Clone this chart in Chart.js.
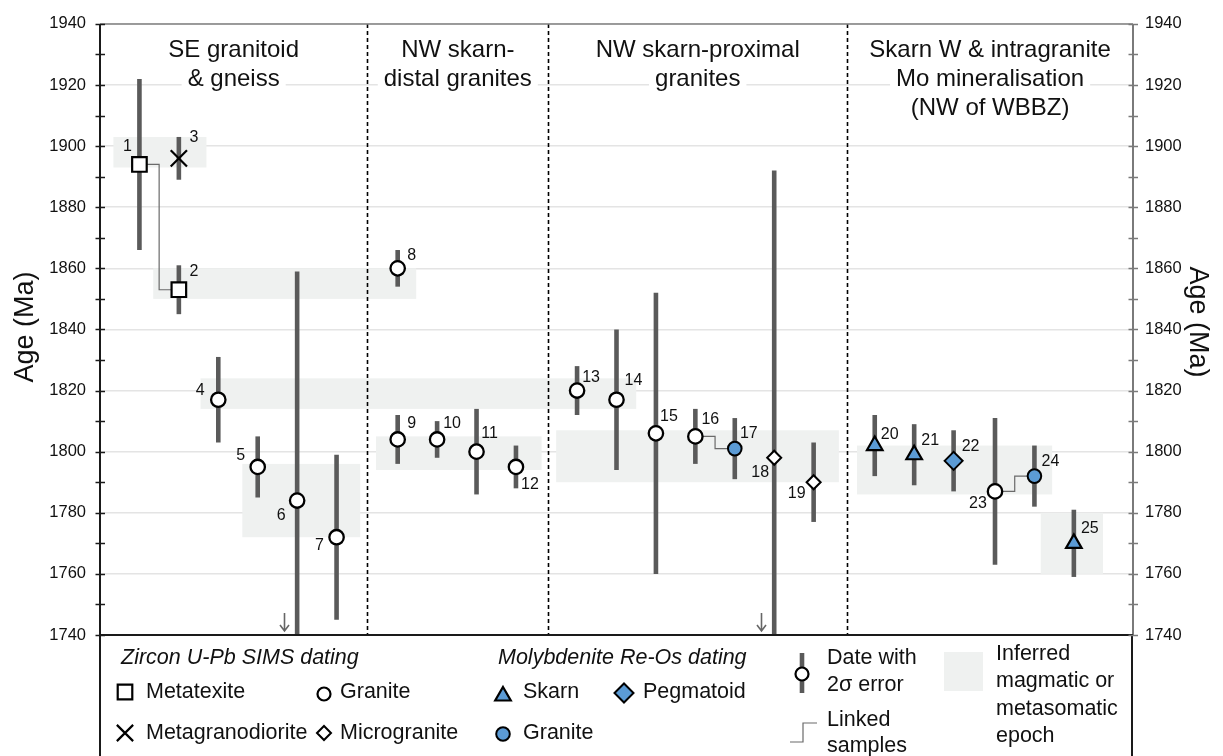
<!DOCTYPE html>
<html>
<head>
<meta charset="utf-8">
<title>Age (Ma)</title>
<script src="https://cdn.jsdelivr.net/npm/chart.js@4.4.1/dist/chart.umd.min.js"></script>
<style>
  html, body { margin: 0; padding: 0; background: #fff; }
  canvas { display: block; }
</style>
</head>
<body>
<canvas id="ageChart" width="1223" height="756"></canvas>
<script>
// ==========================
// DATA
// ==========================
const sampleIds  = [1, 2, 3, 4, 5, 6, 7, 8, 9, 10, 11, 12, 13, 14, 15, 16, 17, 18, 19, 20, 21, 22, 23, 24, 25];
// slot along the horizontal axis (groups separated by gaps)
const samplePos  = [1, 2, 2, 3, 4, 5, 6, 7.55, 7.55, 8.55, 9.55, 10.55, 12.1, 13.1, 14.1, 15.1, 16.1, 17.1, 18.1, 19.65, 20.65, 21.65, 22.7, 23.7, 24.7];
const ages       = [1894, 1853, 1896, 1817, 1795, 1784, 1772, 1860, 1804, 1804, 1800, 1795, 1820, 1817, 1806, 1805, 1801, 1798, 1790, 1802, 1799, 1797, 1787, 1792, 1770];
const errors2s   = [28, 8, 7, 14, 10, 75, 27, 6, 8, 6, 14, 7, 8, 23, 46, 9, 10, 94, 13, 10, 10, 10, 24, 10, 11];
const sampleType = ['metatexite', 'metatexite', 'metagranodiorite', 'granite', 'granite', 'granite', 'granite',
                    'granite', 'granite', 'granite', 'granite', 'granite', 'granite', 'granite', 'granite', 'granite',
                    'moGranite', 'microgranite', 'microgranite', 'skarn', 'skarn', 'pegmatoid', 'granite', 'moGranite', 'skarn'];

// samples joined by a stepped line
const linkedPairs = [[1, 2], [16, 17], [23, 24]];

// inferred magmatic / metasomatic epochs (slot range, age range)
const bandStart = [0.34, 1.35, 2.55, 3.61, 7.0, 11.57, 19.2, 23.86];
const bandEnd   = [2.70, 8.02, 13.6, 6.6, 11.2, 18.74, 24.15, 25.44];
const bandOld   = [1903, 1860, 1824, 1796, 1805, 1807, 1802, 1780];
const bandYoung = [1893, 1850, 1814, 1772, 1794, 1790, 1786, 1760];

// sample groups
const groupBounds = [6.78, 11.37, 18.95];
const groupTitles = [
    ['SE granitoid', '& gneiss'],
    ['NW skarn-', 'distal granites'],
    ['NW skarn-proximal', 'granites'],
    ['Skarn W & intragranite', 'Mo mineralisation', '(NW of WBBZ)']
];

const ageMin = 1740, ageMax = 1940, ageStep = 10;

// ==========================
// STYLE
// ==========================
const FONT = "'Liberation Sans', Arial, sans-serif";
const BLUE = '#5b9bd5';
const BAR  = '#5a5a5a';

// sample number placement around each marker [dx, dy]
const labelOffset = [
    [-12, -18], [15, -18], [15, -21], [-18, -9], [-17, -11], [-16, 15], [-17, 8],
    [14, -13], [14, -16], [15, -16], [13, -18], [14, 18],
    [14, -13], [17, -19], [13, -17], [15, -17], [14, -15], [-14, 15], [-17, 11],
    [15, -11], [16, -14], [17, -14], [-17, 12], [16, -15], [16, -15]
];

const markers = {
    metatexite:       { pointStyle: 'rect',     radius: 10.3, fill: '#fff', border: 2.2 },
    metagranodiorite: { pointStyle: 'crossRot', radius: 11.5, fill: '#fff', border: 2.2 },
    granite:          { pointStyle: 'circle',   radius: 7.2,  fill: '#fff', border: 2.3 },
    microgranite:     { pointStyle: 'rectRot',  radius: 7,    fill: '#fff', border: 2 },
    skarn:            { pointStyle: 'triangle', radius: 9,    fill: BLUE,   border: 2.2 },
    pegmatoid:        { pointStyle: 'rectRot',  radius: 9,    fill: BLUE,   border: 2 },
    moGranite:        { pointStyle: 'circle',   radius: 6.8,  fill: BLUE,   border: 2 }
};

// ==========================
// DATASETS
// ==========================
const markerSets = Object.keys(markers).map(type => {
    const m = markers[type];
    return {
        type: 'scatter',
        label: type,
        data: sampleIds
            .map((id, i) => ({ x: samplePos[i], y: ages[i], t: sampleType[i] }))
            .filter(p => p.t === type),
        pointStyle: m.pointStyle,
        pointRadius: m.radius,
        backgroundColor: m.fill,
        borderColor: '#000',
        borderWidth: m.border,
        order: 1
    };
});

const linkSets = linkedPairs.map(pair => ({
    type: 'line',
    data: pair.map(id => ({ x: samplePos[id - 1], y: ages[id - 1] })),
    stepped: 'middle',
    borderColor: '#6a6a6a',
    borderWidth: 1.2,
    pointRadius: 0,
    fill: false,
    order: 5
}));

// ==========================
// DRAWING HELPERS
// ==========================
function text(ctx, s, x, y, font, align = 'left', color = '#111') {
    ctx.font = font;
    ctx.fillStyle = color;
    ctx.textAlign = align;
    ctx.textBaseline = 'middle';
    ctx.fillText(s, x, y);
}

function marker(ctx, style, radius, fill, border, x, y) {
    ctx.fillStyle = fill;
    ctx.strokeStyle = '#000';
    ctx.lineWidth = border;
    ctx.setLineDash([]);
    Chart.helpers.drawPoint(ctx, { pointStyle: style, radius: radius, rotation: 0, borderWidth: border }, x, y);
}

// ==========================
// PLUGIN
// ==========================
const ageFigure = {
    id: 'ageFigure',

    beforeDatasetsDraw(chart) {
        const { ctx, chartArea: a, scales: { x, y } } = chart;
        ctx.save();
        ctx.beginPath();
        ctx.rect(a.left, a.top, a.right - a.left, a.bottom - a.top);
        ctx.clip();

        // epoch bands
        ctx.fillStyle = '#eff1f0';
        bandStart.forEach((s, i) => {
            const x0 = x.getPixelForValue(s), x1 = x.getPixelForValue(bandEnd[i]);
            const y0 = y.getPixelForValue(bandOld[i]), y1 = y.getPixelForValue(bandYoung[i]);
            ctx.fillRect(x0, y0, x1 - x0, y1 - y0);
        });

        // group separators
        ctx.strokeStyle = '#000';
        ctx.lineWidth = 1.6;
        ctx.setLineDash([4, 3]);
        groupBounds.forEach(g => {
            const gx = Math.round(x.getPixelForValue(g)) + 0.5;
            ctx.beginPath();
            ctx.moveTo(gx, a.top);
            ctx.lineTo(gx, a.bottom);
            ctx.stroke();
        });
        ctx.setLineDash([]);

        // group titles on a white backing
        const edges = [a.left, ...groupBounds.map(g => x.getPixelForValue(g)), a.right];
        ctx.font = '24px ' + FONT;
        groupTitles.forEach((lines, i) => {
            const cx = (edges[i] + edges[i + 1]) / 2;
            lines.forEach((line, j) => {
                const ly = 50 + j * 29;
                const w = ctx.measureText(line).width + 12;
                ctx.fillStyle = '#fff';
                ctx.fillRect(cx - w / 2, ly - 13, w, 26);
                text(ctx, line, cx, ly, '24px ' + FONT, 'center', '#111');
            });
        });

        // 2-sigma error bars
        ctx.strokeStyle = BAR;
        ctx.lineWidth = 4.6;
        ctx.lineCap = 'butt';
        sampleIds.forEach((id, i) => {
            const bx = x.getPixelForValue(samplePos[i]);
            ctx.beginPath();
            ctx.moveTo(bx, y.getPixelForValue(ages[i] + errors2s[i]));
            ctx.lineTo(bx, y.getPixelForValue(ages[i] - errors2s[i]));
            ctx.stroke();
        });

        // arrows for bars running past the bottom of the axis
        ctx.strokeStyle = '#666';
        ctx.lineWidth = 1.6;
        sampleIds.forEach((id, i) => {
            if (ages[i] - errors2s[i] >= ageMin) return;
            const ax = Math.round(x.getPixelForValue(samplePos[i])) - 12.5;
            const ay = a.bottom - 4;
            ctx.beginPath();
            ctx.moveTo(ax, ay - 18);
            ctx.lineTo(ax, ay);
            ctx.moveTo(ax - 4.5, ay - 6);
            ctx.lineTo(ax, ay);
            ctx.lineTo(ax + 4.5, ay - 6);
            ctx.stroke();
        });
        ctx.restore();
    },

    afterDatasetsDraw(chart) {
        const { ctx, scales: { x, y } } = chart;
        ctx.save();
        sampleIds.forEach((id, i) => {
            const px = x.getPixelForValue(samplePos[i]);
            const py = y.getPixelForValue(ages[i]);
            text(ctx, String(id), px + labelOffset[i][0], py + labelOffset[i][1], '16px ' + FONT, 'center', '#111');
        });
        ctx.restore();
    },

    afterDraw(chart) {
        const { ctx, chartArea: a, scales: { y } } = chart;
        const H = chart.height;
        ctx.save();

        // frame
        ctx.lineCap = 'butt';
        ctx.strokeStyle = '#808080';
        ctx.lineWidth = 1.5;
        ctx.beginPath();
        ctx.moveTo(a.left, a.top);
        ctx.lineTo(a.right, a.top);
        ctx.stroke();

        ctx.strokeStyle = '#7a7a7a';
        ctx.lineWidth = 2;
        ctx.beginPath();
        ctx.moveTo(a.right, a.top);
        ctx.lineTo(a.right, a.bottom);
        ctx.stroke();

        ctx.strokeStyle = '#1a1a1a';
        ctx.beginPath();
        ctx.moveTo(a.left, a.top);
        ctx.lineTo(a.left, H);
        ctx.moveTo(a.left, a.bottom);
        ctx.lineTo(a.right, a.bottom);
        ctx.moveTo(a.right - 1, a.bottom);
        ctx.lineTo(a.right - 1, H);
        ctx.stroke();

        // tick marks every 10 Ma, crossing both axes
        ctx.lineWidth = 1.5;
        for (let v = ageMin; v <= ageMax; v += ageStep) {
            const ty = Math.round(y.getPixelForValue(v)) + 0.5;
            ctx.strokeStyle = '#1a1a1a';
            ctx.beginPath();
            ctx.moveTo(a.left - 4.5, ty);
            ctx.lineTo(a.left + 5, ty);
            ctx.stroke();
            ctx.strokeStyle = '#7a7a7a';
            ctx.beginPath();
            ctx.moveTo(a.right - 4.5, ty);
            ctx.lineTo(a.right + 5, ty);
            ctx.stroke();
        }

        // axis titles
        ctx.font = '27px ' + FONT;
        ctx.fillStyle = '#111';
        ctx.textAlign = 'center';
        ctx.textBaseline = 'alphabetic';
        ctx.save();
        ctx.translate(33, 327);
        ctx.rotate(-Math.PI / 2);
        ctx.fillText('Age (Ma)', 0, 0);
        ctx.restore();
        ctx.save();
        ctx.translate(1190, 322);
        ctx.rotate(Math.PI / 2);
        ctx.fillText('Age (Ma)', 0, 0);
        ctx.restore();

        // ---------- legend ----------
        const lf = '21.5px ' + FONT;
        const lfi = 'italic 21.5px ' + FONT;

        text(ctx, 'Zircon U-Pb SIMS dating', 121, 658, lfi);
        marker(ctx, 'rect', 10.3, '#fff', 2.2, 125, 692);
        text(ctx, 'Metatexite', 146, 692, lf);
        marker(ctx, 'crossRot', 11.5, '#fff', 2.2, 125, 733);
        text(ctx, 'Metagranodiorite', 146, 733, lf);
        marker(ctx, 'circle', 6.5, '#fff', 2.2, 324, 694);
        text(ctx, 'Granite', 340, 692, lf);
        marker(ctx, 'rectRot', 7, '#fff', 2, 324, 733);
        text(ctx, 'Microgranite', 340, 733, lf);

        text(ctx, 'Molybdenite Re-Os dating', 498, 658, lfi);
        marker(ctx, 'triangle', 9, BLUE, 2.2, 503, 696);
        text(ctx, 'Skarn', 523, 692, lf);
        marker(ctx, 'circle', 6.8, BLUE, 2, 503, 734);
        text(ctx, 'Granite', 523, 733, lf);
        marker(ctx, 'rectRot', 9.5, BLUE, 2, 624, 693);
        text(ctx, 'Pegmatoid', 643, 692, lf);

        // date with error bar
        ctx.strokeStyle = BAR;
        ctx.lineWidth = 4.6;
        ctx.beginPath();
        ctx.moveTo(802, 653);
        ctx.lineTo(802, 693);
        ctx.stroke();
        marker(ctx, 'circle', 6.5, '#fff', 2.2, 802, 674);
        text(ctx, 'Date with', 827, 658, lf);
        text(ctx, '2\u03c3 error', 827, 685, lf);

        // linked samples
        ctx.strokeStyle = '#6a6a6a';
        ctx.lineWidth = 1.2;
        ctx.beginPath();
        ctx.moveTo(790, 742);
        ctx.lineTo(803, 742);
        ctx.lineTo(803, 723);
        ctx.lineTo(817, 723);
        ctx.stroke();
        text(ctx, 'Linked', 827, 720, lf);
        text(ctx, 'samples', 827, 746, lf);

        // epoch swatch
        ctx.fillStyle = '#eff1f0';
        ctx.fillRect(944, 652, 39, 39);
        ['Inferred', 'magmatic or', 'metasomatic', 'epoch'].forEach((s, i) => {
            text(ctx, s, 996, 654 + i * 27.3, lf);
        });

        ctx.restore();
    }
};

// ==========================
// CHART
// ==========================
const tickLabel = v => (v % 20 === 0 ? String(v) : '');

new Chart(document.getElementById('ageChart'), {
    type: 'scatter',
    data: { datasets: [...linkSets, ...markerSets] },
    options: {
        responsive: false,
        animation: false,
        devicePixelRatio: 1,
        events: [],
        layout: { padding: { top: 21, bottom: 121, left: 0, right: 0 } },
        plugins: { legend: { display: false }, tooltip: { enabled: false } },
        scales: {
            x: { type: 'linear', min: 0, max: 26.2, display: false },
            y: {
                position: 'left',
                min: ageMin, max: ageMax,
                afterFit: s => { s.width = 100; },
                border: { display: false },
                grid: {
                    drawTicks: false,
                    lineWidth: 1.5,
                    color: c => (c.tick && c.tick.value % 20 === 0 ? '#e4e4e4' : 'rgba(0,0,0,0)')
                },
                ticks: {
                    stepSize: ageStep, autoSkip: false, padding: 14,
                    color: '#111', font: { family: FONT, size: 16.5 },
                    callback: tickLabel
                }
            },
            y2: {
                position: 'right',
                min: ageMin, max: ageMax,
                afterFit: s => { s.width = 90; },
                border: { display: false },
                grid: { display: false, drawTicks: false },
                ticks: {
                    stepSize: ageStep, autoSkip: false, padding: 12,
                    color: '#111', font: { family: FONT, size: 16.5 },
                    callback: tickLabel
                }
            }
        }
    },
    plugins: [ageFigure]
});
</script>
</body>
</html>
